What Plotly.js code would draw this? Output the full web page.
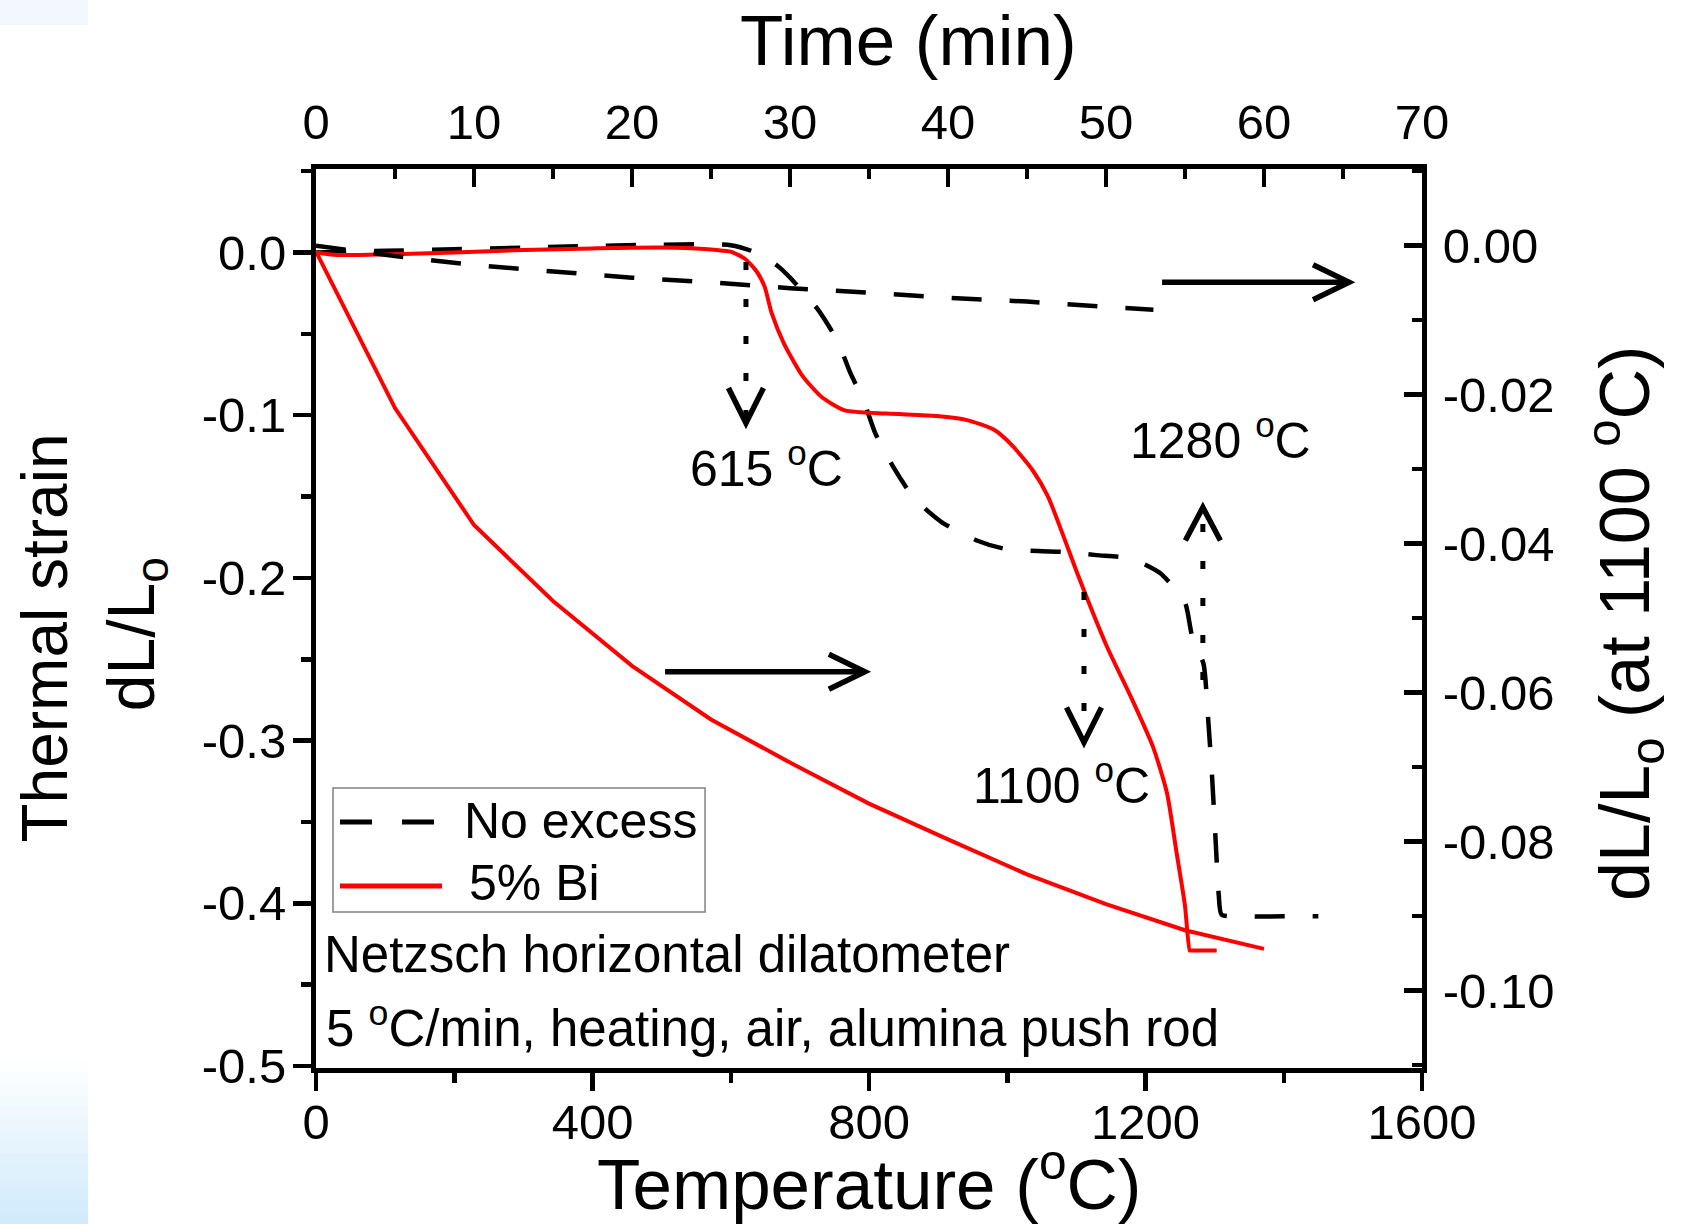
<!DOCTYPE html>
<html>
<head>
<meta charset="utf-8">
<script src="https://cdn.plot.ly/plotly-3.0.1.min.js"></script>
<style>html,body{margin:0;padding:0;background:#fff;} #chart{width:1692px;height:1224px;}</style>
</head>
<body>
<div id="chart"></div>
<script>
// ---- Temperature scans (bottom axis: Temperature, left axis: dL/Lo) ----
const noExcessTemp   = [0, 100, 200, 300, 400, 500, 560, 600, 630, 650, 670, 687, 710, 726, 754, 773, 793, 809, 834, 865, 906, 956, 995, 1045, 1081, 1129, 1178, 1221, 1257, 1267, 1284, 1290, 1296, 1301, 1306, 1310, 1340, 1400, 1450];
const noExcessStrain = [0.000, 0.001, 0.002, 0.003, 0.004, 0.0048, 0.005, 0.0045, 0.001, -0.003, -0.009, -0.016, -0.027, -0.035, -0.054, -0.074, -0.092, -0.111, -0.131, -0.151, -0.166, -0.177, -0.182, -0.1835, -0.184, -0.186, -0.188, -0.197, -0.215, -0.235, -0.253, -0.283, -0.320, -0.358, -0.395, -0.407, -0.408, -0.408, -0.408];

const bi5Temp   = [0, 30, 100, 200, 300, 400, 500, 580, 600, 621, 638, 649, 659, 677, 704, 732, 765, 826, 898, 942, 981, 1008, 1037, 1059, 1081, 1103, 1144, 1182, 1211, 1231, 1245, 1257, 1264, 1266, 1303];
const bi5Strain = [0.000, -0.0015, -0.0012, 0.000, 0.0015, 0.0025, 0.003, 0.0015, 0.0005, -0.004, -0.012, -0.021, -0.037, -0.056, -0.076, -0.089, -0.097, -0.099, -0.1005, -0.103, -0.109, -0.119, -0.134, -0.150, -0.174, -0.199, -0.242, -0.276, -0.304, -0.332, -0.369, -0.401, -0.429, -0.429, -0.429];

// ---- Isothermal holds at 1100 °C (top axis: Time, right axis: dL/Lo) ----
const noExcessTime = [0, 5, 10, 15, 20, 25, 30, 35, 40, 45, 50, 53];
const noExcessIso  = [0.0000, -0.0014, -0.0026, -0.0034, -0.0043, -0.0049, -0.0057, -0.0063, -0.0070, -0.0075, -0.0082, -0.0086];
const bi5Time = [0, 5, 10, 15, 20, 25, 30, 35, 40, 45, 50, 55, 60];
const bi5Iso  = [-0.0008, -0.0218, -0.0375, -0.0477, -0.0564, -0.0636, -0.0694, -0.0749, -0.0797, -0.0844, -0.0884, -0.0919, -0.0944];

// ---- Names and tick labels ----
const seriesNames = ['No excess', '5% Bi'];
const tempTicks = [0, 400, 800, 1200, 1600];
const timeTicks = [0, 10, 20, 30, 40, 50, 60, 70];
const strainTicks = [0, -0.1, -0.2, -0.3, -0.4, -0.5];
const strainTickText = ['0.0', '-0.1', '-0.2', '-0.3', '-0.4', '-0.5'];
const isoTicks = [0, -0.02, -0.04, -0.06, -0.08, -0.10];
const isoTickText = ['0.00', '-0.02', '-0.04', '-0.06', '-0.08', '-0.10'];

const FONT = 'Liberation Sans, Arial, Helvetica, sans-serif';
const RED = '#ff0000';

const traces = [
  {x: noExcessTemp, y: noExcessStrain, name: seriesNames[0], mode: 'lines', xaxis: 'x', yaxis: 'y',
   line: {color: '#000', width: 4.5, dash: '30px,28px', shape: 'spline', smoothing: 0.6}},
  {x: bi5Temp, y: bi5Strain, name: seriesNames[1], mode: 'lines', xaxis: 'x', yaxis: 'y',
   line: {color: RED, width: 4, shape: 'spline', smoothing: 0.6}},
  {x: noExcessTime, y: noExcessIso, name: seriesNames[0], mode: 'lines', xaxis: 'x2', yaxis: 'y2',
   line: {color: '#000', width: 4.5, dash: '30px,28px'}},
  {x: bi5Time, y: bi5Iso, name: seriesNames[1], mode: 'lines', xaxis: 'x2', yaxis: 'y2',
   line: {color: RED, width: 4}}
];

const tickFont = {family: FONT, size: 49, color: '#000'};
const axisCommon = {showline: true, linecolor: '#000', linewidth: 5, showgrid: false, zeroline: false,
  tickcolor: '#000', tickwidth: 4.5, ticklen: 18, tickfont: tickFont, fixedrange: true};

// decoration shapes
const shapes = [];
// light blue screenshot artefacts at the left edge
const px2paperX = X => (X - 316) / 1106;
const px2paperY = Y => (1068 - Y) / 899;
shapes.push({type: 'rect', xref: 'paper', yref: 'paper', layer: 'below',
  x0: px2paperX(0), x1: px2paperX(88), y0: px2paperY(0), y1: px2paperY(25),
  fillcolor: '#f2f8fe', line: {width: 0}});
const gradN = 14;
for (let i = 0; i < gradN; i++) {
  const f = (i + 0.5) / gradN;
  const r = Math.round(255 - f * (255 - 207));
  const g = Math.round(255 - f * (255 - 234));
  const b = Math.round(255 - f * (255 - 251));
  const Y0 = 1060 + i * (164 / gradN), Y1 = 1060 + (i + 1) * (164 / gradN) + 0.6;
  shapes.push({type: 'rect', xref: 'paper', yref: 'paper', layer: 'below',
    x0: px2paperX(0), x1: px2paperX(88), y0: px2paperY(Y0), y1: px2paperY(Y1),
    fillcolor: `rgb(${r},${g},${b})`, line: {width: 0}});
}

// solid arrows (shaft + open head)
function hArrow(x0, x1, y) {
  shapes.push({type: 'line', xref: 'x', yref: 'y', x0: x0, x1: x1, y0: y, y1: y, line: {color: '#000', width: 5.5}});
  shapes.push({type: 'path', xref: 'x', yref: 'y', xsizemode: 'pixel', ysizemode: 'pixel', xanchor: x1, yanchor: y,
    path: 'M-36,17.5 L0,0 L-36,-17.5', line: {color: '#000', width: 5.5}});
}
hArrow(1224, 1494.5, -0.0183);
hArrow(505, 794, -0.2577);

// dotted vertical arrows
function vArrow(x, yFrom, yTip, down) {
  shapes.push({type: 'line', xref: 'x', yref: 'y', x0: x, x1: x, y0: yFrom, y1: yTip,
    line: {color: '#000', width: 5, dash: '8px,29px'}});
  const p = down ? 'M-17.5,35 L0,0 L17.5,35' : 'M-17.5,-33 L0,0 L17.5,-33';
  shapes.push({type: 'path', xref: 'x', yref: 'y', xsizemode: 'pixel', ysizemode: 'pixel', xanchor: x, yanchor: yTip,
    path: p, line: {color: '#000', width: 5.5}});
}
vArrow(622, -0.0058, -0.1048, true);
vArrow(1111, -0.2087, -0.3011, true);
vArrow(1283, -0.2627, -0.1567, false);

// legend (drawn in plot)
shapes.push({type: 'rect', xref: 'x', yref: 'y', x0: 24.6, x1: 562.8, y0: -0.3291, y1: -0.4053,
  line: {color: '#808080', width: 1.5}, fillcolor: 'rgba(255,255,255,0)'});
shapes.push({type: 'line', xref: 'x', yref: 'y', x0: 34.7, x1: 172, y0: -0.35, y1: -0.35,
  line: {color: '#000', width: 5, dash: '32px,30px'}});
shapes.push({type: 'line', xref: 'x', yref: 'y', x0: 34.7, x1: 182.3, y0: -0.3893, y1: -0.3893,
  line: {color: RED, width: 5}});

function txt(text, x, y, size, opts) {
  return Object.assign({text: text, x: x, y: y, xref: 'x', yref: 'y', showarrow: false,
    font: {family: FONT, size: size, color: '#000'}, xanchor: 'center', yanchor: 'bottom'}, opts || {});
}

const annotations = [
  txt('615 <sup>o</sup>C', 651, -0.1515, 50),
  txt('1100 <sup>o</sup>C', 1079, -0.3463, 50),
  txt('1280 <sup>o</sup>C', 1308, -0.1343, 50),
  txt('Netzsch horizontal dilatometer', 9, -0.4502, 51, {xanchor: 'left'}),
  txt('5 <sup>o</sup>C/min, heating, air, alumina push rod', 11.6, -0.4957, 51, {xanchor: 'left'}),
  txt(seriesNames[0], 211, -0.3679, 50, {xanchor: 'left'}),
  txt(seriesNames[1], 218.5, -0.4058, 50, {xanchor: 'left'}),
  // axis titles
  txt('Time (min)', 0.5353, 1.099, 71, {xref: 'paper', yref: 'paper', borderpad: 0, borderwidth: 0}),
  txt('Temperature (<sup>o</sup>C)', 0.5009, -0.1730, 71, {xref: 'paper', yref: 'paper', borderpad: 0, borderwidth: 0}),
  txt('Thermal strain', -0.245, 0.4778, 64, {xref: 'paper', yref: 'paper', textangle: -90, yanchor: 'middle'}),
  txt('dL/L<sub>o</sub>', -0.163, 0.4822, 66, {xref: 'paper', yref: 'paper', textangle: -90, yanchor: 'middle'}),
  txt('dL/L<sub>o</sub> (at 1100 <sup>o</sup>C)', 1.1835, 0.495, 70, {xref: 'paper', yref: 'paper', textangle: -90, yanchor: 'middle'})
];

const layout = {
  width: 1692, height: 1224,
  margin: {l: 316, r: 270, t: 169, b: 156, pad: 0},
  paper_bgcolor: '#fff', plot_bgcolor: '#fff',
  showlegend: false,
  font: {family: FONT, color: '#000'},
  xaxis: Object.assign({}, axisCommon, {range: [0, 1600], side: 'bottom', anchor: 'y',
    ticks: 'outside', tickmode: 'array', tickvals: tempTicks, ticklabelstandoff: -11,
    minor: {dtick: 200, tick0: 0, ticks: 'outside', ticklen: 10, tickwidth: 4.5, tickcolor: '#000'}}),
  yaxis: Object.assign({}, axisCommon, {range: [-0.5012, 0.0513], side: 'left', anchor: 'x',
    ticks: 'outside', tickmode: 'array', tickvals: strainTicks, ticktext: strainTickText, ticklabelstandoff: -3,
    minor: {dtick: 0.05, tick0: 0, ticks: 'outside', ticklen: 10, tickwidth: 4.5, tickcolor: '#000'}}),
  xaxis2: Object.assign({}, axisCommon, {range: [0, 70], side: 'top', overlaying: 'x', anchor: 'y2',
    ticks: 'inside', tickmode: 'array', tickvals: timeTicks, ticklabelstandoff: 5,
    minor: {dtick: 5, tick0: 0, ticks: 'inside', ticklen: 10, tickwidth: 4.5, tickcolor: '#000'}}),
  yaxis2: Object.assign({}, axisCommon, {range: [-0.1104, 0.0103], side: 'right', overlaying: 'y', anchor: 'x2',
    ticks: 'inside', tickmode: 'array', tickvals: isoTicks, ticktext: isoTickText, ticklabelstandoff: 6,
    minor: {dtick: 0.01, tick0: 0, ticks: 'inside', ticklen: 10, tickwidth: 4.5, tickcolor: '#000'}}),
  shapes: shapes,
  annotations: annotations
};

Plotly.newPlot('chart', traces, layout, {staticPlot: true, displayModeBar: false});
</script>
</body>
</html>
